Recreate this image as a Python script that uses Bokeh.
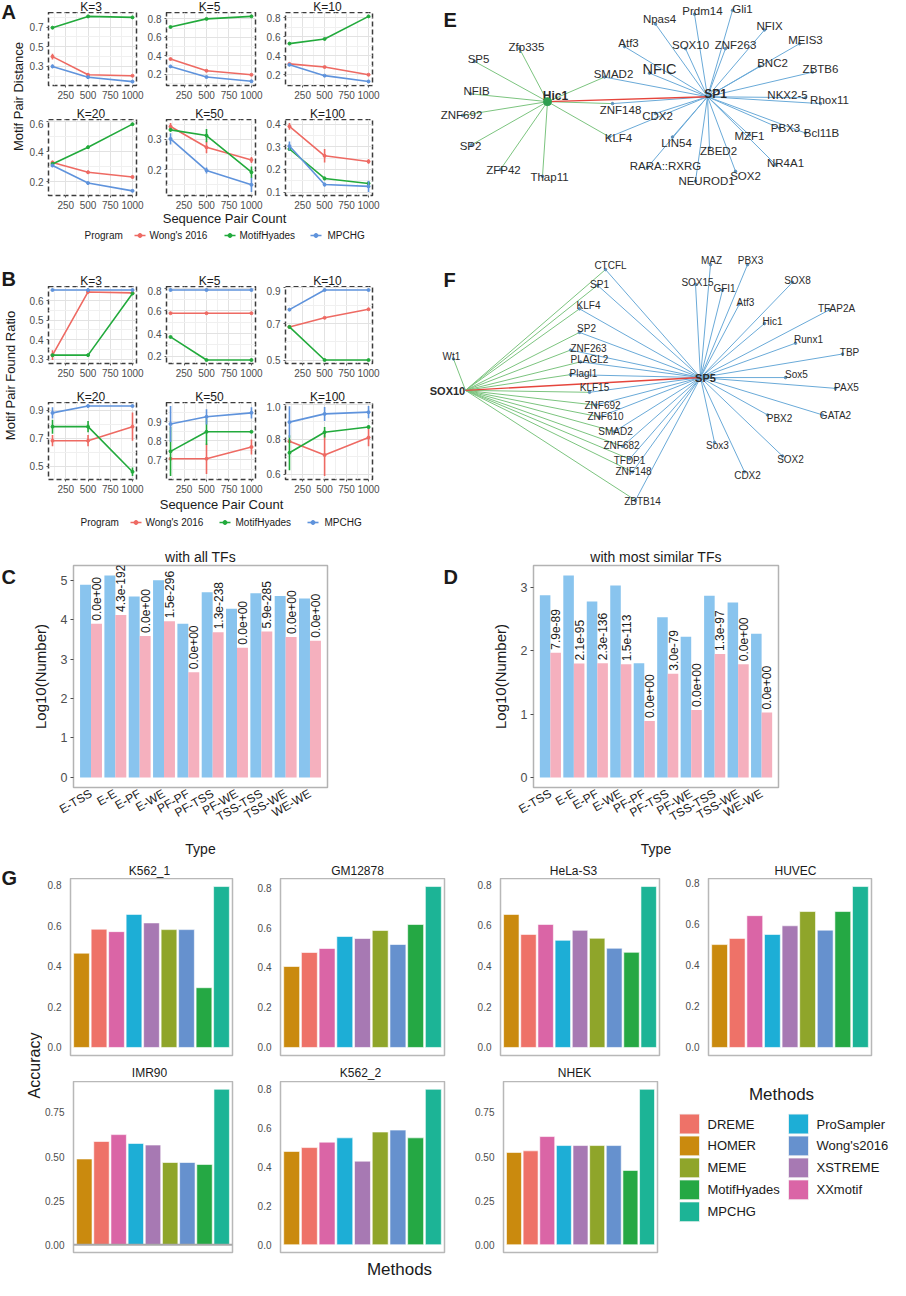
import math
from bokeh.plotting import figure
from bokeh.models import (Range1d, FactorRange, FixedTicker, ColumnDataSource, Span,
                          NumeralTickFormatter)
from bokeh.layouts import row, column
from bokeh.embed import file_html
from bokeh.resources import INLINE
from bokeh.core.properties import value
from bokeh.transform import dodge

FONT = "Liberation Sans"
INK = "#1A1A1A"
GREY_TXT = "#4D4D4D"

# ---------------- Panels A / B data ----------------
seq_counts = [100, 500, 1000]
x_ticks = [250, 500, 750, 1000]
k_titles = ["K=3", "K=5", "K=10", "K=20", "K=50", "K=100"]
programs = ["Wong's 2016", "MotifHyades", "MPCHG"]
program_colors = ["#EE6A63", "#22AA3C", "#5F93DC"]

dist_wong = [[0.40, 0.215, 0.205], [0.367, 0.24, 0.197], [0.314, 0.281, 0.20],
             [0.328, 0.262, 0.231], [0.343, 0.274, 0.232], [0.39, 0.26, 0.235]]
dist_mh = [[0.695, 0.81, 0.80], [0.713, 0.80, 0.827], [0.528, 0.577, 0.815],
           [0.318, 0.43, 0.584], [0.332, 0.313, 0.191], [0.29, 0.16, 0.138]]
dist_mpchg = [[0.30, 0.19, 0.145], [0.287, 0.173, 0.127], [0.304, 0.19, 0.129],
              [0.307, 0.19, 0.138], [0.302, 0.197, 0.149], [0.303, 0.133, 0.125]]
dist_err_wong = [[0.03, 0.008, 0.006], [0.01, 0.005, 0.008], [0.01, 0.01, 0.008],
                 [0.012, 0.01, 0.01], [0.012, 0.02, 0.01], [0.015, 0.03, 0.01]]
dist_err_mh = [[0.012, 0.006, 0.006], [0.008, 0.005, 0.006], [0.005, 0.005, 0.006],
               [0.012, 0.01, 0.008], [0.006, 0.022, 0.019], [0.008, 0.008, 0.01]]
dist_err_mpchg = [[0.02, 0.006, 0.006], [0.008, 0.005, 0.01], [0.012, 0.006, 0.008],
                  [0.01, 0.008, 0.008], [0.019, 0.01, 0.024], [0.02, 0.008, 0.025]]
dist_yticks = [[0.3, 0.5, 0.7], [0.2, 0.4, 0.6, 0.8], [0.2, 0.4, 0.6, 0.8],
               [0.2, 0.4, 0.6], [0.2, 0.3], [0.1, 0.2, 0.3, 0.4]]

ratio_wong = [[0.32, 0.645, 0.64], [0.58, 0.58, 0.58], [0.682, 0.732, 0.779],
              [0.683, 0.683, 0.783], [0.705, 0.705, 0.767], [0.788, 0.71, 0.81]]
ratio_mh = [[0.32, 0.32, 0.637], [0.37, 0.166, 0.166], [0.682, 0.5, 0.5],
            [0.783, 0.783, 0.462], [0.744, 0.847, 0.847], [0.723, 0.84, 0.87]]
ratio_mpchg = [[0.655, 0.655, 0.655], [0.785, 0.785, 0.785], [0.777, 0.885, 0.885],
               [0.881, 0.93, 0.93], [0.888, 0.926, 0.947], [0.898, 0.945, 0.955]]
ratio_err_wong = [[0.025, 0, 0], [0, 0, 0], [0, 0, 0], [0.04, 0.04, 0.1],
                  [0, 0.08, 0.04], [0.01, 0.12, 0.05]]
ratio_err_mh = [[0, 0, 0], [0, 0, 0], [0, 0, 0], [0.05, 0.04, 0.03],
                [0.13, 0.07, 0], [0.1, 0.03, 0.01]]
ratio_err_mpchg = [[0, 0, 0], [0, 0, 0], [0, 0, 0], [0.04, 0, 0],
                   [0.095, 0.04, 0.03], [0.09, 0.04, 0.035]]
ratio_yticks = [[0.3, 0.4, 0.5, 0.6], [0.2, 0.4, 0.6, 0.8], [0.5, 0.7, 0.9],
                [0.5, 0.7, 0.9], [0.7, 0.8, 0.9], [0.6, 0.8, 1.0]]

# ---------------- Panels C / D data ----------------
pair_types = ["E-TSS", "E-E", "E-PF", "E-WE", "PF-PF", "PF-TSS", "PF-WE", "TSS-TSS", "TSS-WE", "WE-WE"]
alltf_total = [4.89, 5.12, 4.59, 5.00, 3.90, 4.70, 4.28, 4.67, 4.60, 4.54]
alltf_shared = [3.90, 4.12, 3.59, 3.96, 2.67, 3.68, 3.29, 3.70, 3.56, 3.47]
alltf_pvalue = ["0.0e+00", "4.3e-192", "0.0e+00", "1.5e-296", "0.0e+00", "1.3e-238",
                "0.0e+00", "5.9e-285", "0.0e+00", "0.0e+00"]
simtf_total = [2.88, 3.19, 2.78, 3.035, 1.805, 2.53, 2.225, 2.87, 2.765, 2.27]
simtf_shared = [1.97, 1.80, 1.805, 1.79, 0.89, 1.64, 1.065, 1.95, 1.79, 1.025]
simtf_pvalue = ["7.9e-89", "2.1e-95", "2.3e-136", "1.5e-113", "0.0e+00", "3.0e-79",
                "0.0e+00", "1.3e-97", "0.0e+00", "0.0e+00"]
alltf_yticks = [0, 1, 2, 3, 4, 5]
simtf_yticks = [0, 1, 2, 3]

# ---------------- Panel G data ----------------
methods_order = ["HOMER", "DREME", "XXmotif", "ProSampler", "XSTREME", "MEME",
                 "Wong's2016", "MotifHyades", "MPCHG"]
method_names = ["DREME", "HOMER", "MEME", "MotifHyades", "MPCHG",
                "ProSampler", "Wong's2016", "XSTREME", "XXmotif"]
method_colors = ["#EE7268", "#CA8A0E", "#8FA52A", "#25A844", "#1CB496",
                 "#1DAED6", "#6691CE", "#A779B3", "#DA65A6"]
cell_lines = ["K562_1", "GM12878", "HeLa-S3", "HUVEC", "IMR90", "K562_2", "NHEK"]
acc_K562_1 = [0.464, 0.582, 0.570, 0.655, 0.613, 0.580, 0.580, 0.294, 0.792]
acc_GM12878 = [0.405, 0.475, 0.495, 0.555, 0.545, 0.585, 0.515, 0.615, 0.805]
acc_HeLaS3 = [0.653, 0.555, 0.604, 0.526, 0.575, 0.536, 0.487, 0.467, 0.790]
acc_HUVEC = [0.498, 0.528, 0.638, 0.547, 0.589, 0.658, 0.568, 0.658, 0.779]
acc_IMR90 = [0.486, 0.585, 0.624, 0.574, 0.565, 0.466, 0.466, 0.455, 0.881]
acc_K562_2 = [0.480, 0.500, 0.528, 0.550, 0.430, 0.580, 0.590, 0.550, 0.800]
acc_NHEK = [0.523, 0.532, 0.613, 0.562, 0.562, 0.562, 0.562, 0.421, 0.881]
acc_ticks_a = [0.0, 0.2, 0.4, 0.6, 0.8]
acc_ticks_b = [0.0, 0.25, 0.5, 0.75]

# ---------------- Panel E / F network data (positions) ----------------
e_hub_names = ["Hic1", "SP1"]
e_hub_x = [555, 715]
e_hub_y = [101, 96]
e_hub_label_x = [563, 723]
e_hub_label_y = [95, 93]
e_names = ["Zfp335", "SP5", "NFIB", "ZNF692", "SP2", "ZFP42", "Thap11", "SMAD2", "ZNF148", "KLF4",
           "Npas4", "Prdm14", "Gli1", "NFIX", "MEIS3", "Atf3", "SOX10", "ZNF263", "BNC2", "ZBTB6",
           "NFIC", "NKX2-5", "Rhox11", "PBX3", "Bcl11B", "MZF1", "NR4A1", "ZBED2", "LIN54", "CDX2",
           "RARA::RXRG", "NEUROD1", "SOX2"]
e_node_x = [527, 482, 478, 470, 479, 508, 550, 612, 620, 617,
            663, 702, 740, 772, 807, 632, 693, 733, 767, 820,
            657, 813, 828, 787, 813, 757, 783, 717, 680, 663,
            655, 703, 743]
e_node_y = [47, 60, 93, 115, 145, 170, 177, 76, 103, 137,
            22, 12, 8, 28, 42, 45, 47, 47, 65, 71,
            72, 97, 103, 128, 133, 135, 165, 148, 137, 113,
            168, 182, 172]
e_label_x = [534, 486, 484, 469, 478, 511, 557, 621, 628, 626,
             667, 710, 750, 777, 813, 636, 698, 743, 780, 828,
             667, 795, 837, 793, 829, 757, 793, 726, 684, 665,
             673, 714, 753]
e_label_y = [45, 58, 90, 115, 146, 171, 178, 73, 110, 138,
             17, 9, 7, 24, 38, 41, 43, 43, 62, 68,
             68, 94, 99, 128, 133, 136, 163, 151, 143, 116,
             167, 182, 177]
e_links_hic1 = ["Zfp335", "SP5", "NFIB", "ZNF692", "SP2", "ZFP42", "Thap11", "SMAD2", "ZNF148", "KLF4"]
e_links_sp1 = ["SMAD2", "ZNF148", "KLF4", "Npas4", "Prdm14", "Gli1", "NFIX", "MEIS3", "Atf3", "SOX10",
               "ZNF263", "BNC2", "ZBTB6", "NFIC", "NKX2-5", "Rhox11", "PBX3", "Bcl11B", "MZF1", "NR4A1",
               "ZBED2", "LIN54", "CDX2", "RARA::RXRG", "NEUROD1", "SOX2"]

f_hub_names = ["SOX10", "SP5"]
f_hub_x = [473, 708]
f_hub_y = [395, 382]
f_hub_label_x = [455, 713]
f_hub_label_y = [396, 382]
f_names = ["Wt1", "CTCFL", "SP1", "KLF4", "SP2", "ZNF263", "PLAGL2", "Plagl1", "KLF15", "ZNF692",
           "ZNF610", "SMAD2", "ZNF682", "TFDP1", "ZNF148", "ZBTB14", "MAZ", "PBX3", "SOX15", "GFI1",
           "Atf3", "SOX8", "Hic1", "TFAP2A", "Runx1", "TBP", "Sox5", "PAX5", "GATA2", "PBX2",
           "SOX2", "CDX2", "Sox3"]
f_node_x = [461, 613, 605, 587, 587, 578, 588, 578, 597, 603,
            607, 622, 630, 637, 640, 643, 718, 755, 703, 730,
            747, 800, 772, 837, 803, 850, 793, 843, 830, 775,
            790, 752, 722]
f_node_y = [363, 272, 288, 312, 336, 354, 366, 379, 397, 410,
            422, 437, 452, 465, 478, 507, 267, 267, 287, 293,
            307, 285, 327, 313, 347, 358, 382, 393, 420, 420,
            462, 478, 448]
f_label_x = [459, 618, 607, 596, 594, 596, 597, 591, 602, 610,
             613, 623, 629, 637, 641, 650, 719, 758, 705, 732,
             753, 805, 780, 844, 816, 857, 804, 854, 843, 787,
             798, 755, 725]
f_label_y = [361, 268, 287, 309, 332, 352, 364, 378, 392, 410,
             422, 437, 451, 466, 478, 508, 263, 263, 285, 291,
             306, 283, 325, 312, 343, 356, 379, 392, 421, 424,
             465, 482, 451]
f_links_sox10 = ["Wt1", "CTCFL", "SP1", "KLF4", "SP2", "ZNF263", "PLAGL2", "Plagl1", "KLF15", "ZNF692",
                 "ZNF610", "SMAD2", "ZNF682", "TFDP1", "ZNF148", "ZBTB14"]
f_links_sp5 = ["CTCFL", "SP1", "KLF4", "SP2", "ZNF263", "PLAGL2", "Plagl1", "KLF15", "ZNF692",
               "ZNF610", "SMAD2", "ZNF682", "TFDP1", "ZNF148", "ZBTB14", "MAZ", "PBX3", "SOX15", "GFI1",
               "Atf3", "SOX8", "Hic1", "TFAP2A", "Runx1", "TBP", "Sox5", "PAX5", "GATA2", "PBX2",
               "SOX2", "CDX2", "Sox3"]

GREEN_EDGE = "#7CC47F"
BLUE_EDGE = "#6AAAD8"
RED_EDGE = "#E5453C"
BAR_BLUE = "#89C4EE"
BAR_PINK = "#F5B0BE"


# ---------------- helpers ----------------
def make_fig(w, h, xr, yr, left=0, right=0, top=0, bottom=0, title=None):
    p = figure(width=w, height=h, x_range=xr, y_range=yr, output_backend="svg",
               toolbar_location=None, min_border_left=left, min_border_right=right,
               min_border_top=top, min_border_bottom=bottom, title=title)
    p.background_fill_color = "white"
    p.border_fill_color = "white"
    return p


def make_canvas(x0, y0, w, h):
    p = figure(width=w, height=h, x_range=Range1d(x0, x0 + w), y_range=Range1d(y0 + h, y0),
               output_backend="svg", toolbar_location=None, min_border=0,
               x_axis_location=None, y_axis_location=None, title=None)
    p.outline_line_color = None
    p.grid.visible = False
    p.background_fill_color = "white"
    p.border_fill_color = "white"
    return p


def put_text(p, xs, ys, texts, size, align="center", baseline="middle", bold=False,
             color=INK, angle=0.0):
    p.text(x=xs, y=ys, text=texts, text_font=value(FONT), text_font_size=f"{size}px",
           text_align=align, text_baseline=baseline,
           text_font_style="bold" if bold else "normal", text_color=color, angle=angle)


def minor_between(ticks, lo, hi):
    step = ticks[1] - ticks[0]
    cand = [ticks[0] - step / 2] + [(a + b) / 2 for a, b in zip(ticks, ticks[1:])] + [ticks[-1] + step / 2]
    return [c for c in cand if lo <= c <= hi]


def line_panel(i, wong, mh, mp, ew, em, ep, yticks, left, fw, right, fh, bottom):
    series = [(wong[i], ew[i]), (mh[i], em[i]), (mp[i], ep[i])]
    lo = min(v - e for vals, errs in series for v, e in zip(vals, errs))
    hi = max(v + e for vals, errs in series for v, e in zip(vals, errs))
    pad = 0.05 * (hi - lo)
    xpad = 0.05 * (max(seq_counts) - min(seq_counts))
    xr = Range1d(min(seq_counts) - xpad, max(seq_counts) + xpad)
    yr = Range1d(lo - pad, hi + pad)
    p = make_fig(left + fw + right, fh + bottom, xr, yr, left, right, 0, bottom)
    p.xaxis.ticker = FixedTicker(ticks=x_ticks, minor_ticks=minor_between(x_ticks, xr.start, xr.end))
    p.yaxis.ticker = FixedTicker(ticks=yticks[i], minor_ticks=minor_between(yticks[i], yr.start, yr.end))
    p.yaxis.formatter = NumeralTickFormatter(format="0.0")
    p.axis.axis_line_color = None
    p.axis.major_tick_line_color = "#5A5A5A"
    p.axis.major_tick_out = 2
    p.axis.major_tick_in = 0
    p.axis.minor_tick_line_color = None
    p.axis.major_label_text_font = FONT
    p.axis.major_label_text_font_size = "10px"
    p.axis.major_label_text_color = GREY_TXT
    p.axis.major_label_standoff = 1
    p.xgrid.grid_line_color = "#E2E2E2"
    p.ygrid.grid_line_color = "#E2E2E2"
    p.xgrid.minor_grid_line_color = "#F0F0F0"
    p.ygrid.minor_grid_line_color = "#F0F0F0"
    p.outline_line_color = "#3C3C3C"
    p.outline_line_width = 1.5
    p.outline_line_dash = "5 3"
    for (vals, errs), col in zip(series, program_colors):
        p.segment(x0=seq_counts, y0=[v - e for v, e in zip(vals, errs)],
                  x1=seq_counts, y1=[v + e for v, e in zip(vals, errs)],
                  line_color=col, line_width=1.6)
        p.line(x=seq_counts, y=vals, line_color=col, line_width=1.6)
        p.scatter(x=seq_counts, y=vals, size=3, color=col)
    return p


PANEL_LEFT = [19, 19, 19]
PANEL_FRAME = [91, 92, 90]
PANEL_RIGHT = [8, 8, 50]
FRAME_CENTERS = [98.5, 217, 335]
AB_W = 396


def line_row(i0, wong, mh, mp, ew, em, ep, yt, fh, bottom):
    return row(*[line_panel(i0 + j, wong, mh, mp, ew, em, ep, yt, PANEL_LEFT[j], PANEL_FRAME[j],
                            PANEL_RIGHT[j], fh, bottom) for j in range(3)])


def title_strip(x0, y0, w, h, xs, labels, y, size=12):
    c = make_canvas(x0, y0, w, h)
    put_text(c, xs, [y] * len(xs), labels, size)
    return c


def program_legend(x0, y0, w, h, xlab_x, xlab_y, leg_y, prog_x, sw_x, lab_x):
    c = make_canvas(x0, y0, w, h)
    put_text(c, [xlab_x], [xlab_y], ["Sequence Pair Count"], 13)
    put_text(c, [prog_x], [leg_y], ["Program"], 10, align="left")
    for sx, lx, name, col in zip(sw_x, lab_x, programs, program_colors):
        c.segment(x0=[sx], y0=[leg_y], x1=[sx + 11], y1=[leg_y], line_color=col, line_width=1.6)
        c.scatter(x=[sx + 5.5], y=[leg_y], size=4, color=col)
        put_text(c, [lx], [leg_y], [name], 10, align="left")
    return c


# ---------------- Panel A block ----------------
a_left = make_canvas(8, 8, 26, 260)
put_text(a_left, [9], [19], ["A"], 20, align="left", bold=True)
put_text(a_left, [26], [104], ["Motif Pair Distance"], 13, angle=math.pi / 2)
a_col = column(
    title_strip(34, 8, AB_W, 12, FRAME_CENTERS, k_titles[:3], 14),
    line_row(0, dist_wong, dist_mh, dist_mpchg, dist_err_wong, dist_err_mh, dist_err_mpchg,
             dist_yticks, 73, 22),
    title_strip(34, 115, AB_W, 12, FRAME_CENTERS, k_titles[3:], 121),
    line_row(3, dist_wong, dist_mh, dist_mpchg, dist_err_wong, dist_err_mh, dist_err_mpchg,
             dist_yticks, 76, 17),
    program_legend(34, 220, AB_W, 48, 232, 226, 243, 92, [142, 232, 318], [157, 247, 335]),
)
a_block = row(a_left, a_col)

# ---------------- Panel B block ----------------
b_left = make_canvas(8, 268, 26, 284)
put_text(b_left, [9], [286], ["B"], 20, align="left", bold=True)
put_text(b_left, [18], [383], ["Motif Pair Found Ratio"], 13, angle=math.pi / 2)
b_col = column(
    title_strip(34, 268, AB_W, 26, FRAME_CENTERS, k_titles[:3], 288),
    line_row(0, ratio_wong, ratio_mh, ratio_mpchg, ratio_err_wong, ratio_err_mh, ratio_err_mpchg,
             ratio_yticks, 77, 17),
    title_strip(34, 388, AB_W, 22, FRAME_CENTERS, k_titles[3:], 404),
    line_row(3, ratio_wong, ratio_mh, ratio_mpchg, ratio_err_wong, ratio_err_mh, ratio_err_mpchg,
             ratio_yticks, 77, 17),
    program_legend(34, 504, AB_W, 48, 229, 512, 530, 88, [138, 227, 315], [153, 243, 332]),
)
b_block = row(b_left, b_col)


# ---------------- Panels E / F (networks) ----------------
def draw_network(p, hub_x, hub_y, hub_lx, hub_ly, hub_names, names, nx, ny, lx, ly,
                 left_links, right_links, font_px, hub_font_px, big=None):
    idx = {n: i for i, n in enumerate(names)}
    for links, hub, col in ((left_links, 0, GREEN_EDGE), (right_links, 1, BLUE_EDGE)):
        p.segment(x0=[hub_x[hub]] * len(links), y0=[hub_y[hub]] * len(links),
                  x1=[nx[idx[n]] for n in links], y1=[ny[idx[n]] for n in links],
                  line_color=col, line_width=1.0)
    p.segment(x0=[hub_x[0]], y0=[hub_y[0]], x1=[hub_x[1]], y1=[hub_y[1]],
              line_color=RED_EDGE, line_width=1.4)
    p.scatter(x=nx, y=ny, size=2.5, color="#5B8FB9")
    sizes = [f"{font_px}px" if n != big else f"{font_px + 3}px" for n in names]
    src = ColumnDataSource(dict(x=lx, y=ly, t=names, s=sizes))
    p.text(x="x", y="y", text="t", text_font_size="s", source=src, text_font=value(FONT),
           text_align="center", text_baseline="middle", text_color="#2B2B2B")
    put_text(p, hub_lx, hub_ly, hub_names, hub_font_px, bold=True, color="#2B2B2B")


ef = figure(width=468, height=544, x_range=Range1d(430, 898), y_range=Range1d(552, -2),
            output_backend="svg", toolbar_location=None, min_border=0,
            x_axis_location=None, y_axis_location=None, title=None)
ef.outline_line_color = None
ef.grid.visible = False
draw_network(ef, e_hub_x, e_hub_y, e_hub_label_x, e_hub_label_y, e_hub_names, e_names,
             e_node_x, e_node_y, e_label_x, e_label_y, e_links_hic1, e_links_sp1, 11.5, 12, big="NFIC")
ef.scatter(x=[e_hub_x[0]], y=[e_hub_y[0]], size=8, color="#2E9E4F")
draw_network(ef, f_hub_x, f_hub_y, f_hub_label_x, f_hub_label_y, f_hub_names, f_names,
             f_node_x, f_node_y, f_label_x, f_label_y, f_links_sox10, f_links_sp5, 10, 11)
put_text(ef, [451, 451], [18, 283], ["E", "F"], 20, align="left", bold=True)

top_row = row(column(a_block, b_block), ef)


# ---------------- Panels C / D ----------------
def bar_panel(title, totals, shared, pvals, yticks, w, h, left, right, top, bottom):
    xr = FactorRange(factors=pair_types, range_padding=0.22, range_padding_units="absolute")
    hi = max(totals)
    pad = 0.05 * hi
    p = make_fig(w, h, xr, Range1d(-pad, hi + pad), left, right, top, bottom, title=title)
    p.title.align = "center"
    p.title.text_font = FONT
    p.title.text_font_size = "14px"
    p.title.text_font_style = "normal"
    p.title.text_color = INK
    p.title.standoff = 2
    src = ColumnDataSource(dict(ptype=pair_types, total=totals, shared=shared, pv=pvals))
    p.vbar(x=dodge("ptype", -0.225, range=xr), top="total", bottom=0, width=0.45, source=src,
           fill_color=BAR_BLUE, line_color=None)
    p.vbar(x=dodge("ptype", 0.225, range=xr), top="shared", bottom=0, width=0.45, source=src,
           fill_color=BAR_PINK, line_color=None)
    p.text(x=dodge("ptype", 0.225, range=xr), y="shared", text="pv", source=src,
           angle=math.pi / 2, text_align="left", text_baseline="middle", y_offset=-3,
           text_font=value(FONT), text_font_size="12px", text_color=INK)
    p.yaxis.ticker = FixedTicker(ticks=yticks)
    p.grid.visible = False
    p.axis.axis_line_color = None
    p.yaxis.major_tick_line_color = GREY_TXT
    p.yaxis.major_tick_out = 3
    p.yaxis.major_tick_in = 0
    p.xaxis.major_tick_line_color = None
    p.xaxis.major_tick_out = 2
    p.xaxis.major_tick_in = 0
    p.axis.minor_tick_line_color = None
    p.axis.major_label_text_font = FONT
    p.yaxis.major_label_text_font_size = "12.5px"
    p.yaxis.major_label_text_color = GREY_TXT
    p.xaxis.major_label_text_font_size = "12px"
    p.xaxis.major_label_text_color = INK
    p.xaxis.major_label_orientation = math.pi / 6
    p.axis.major_label_standoff = 3
    p.axis.axis_label_text_font = FONT
    p.axis.axis_label_text_font_style = "normal"
    p.axis.axis_label_text_color = INK
    p.xaxis.axis_label = "Type"
    p.yaxis.axis_label = "Log10(Number)"
    p.xaxis.axis_label_text_font_size = "14px"
    p.yaxis.axis_label_text_font_size = "15px"
    p.xaxis.axis_label_standoff = 8
    p.yaxis.axis_label_standoff = 9
    p.outline_line_color = "#B3B3B3"
    p.outline_line_width = 1.5
    return p


c_letter = make_canvas(8, 552, 20, 320)
put_text(c_letter, [9], [569], ["C"], 20, align="left", bold=True)
c_fig = bar_panel("with all TFs", alltf_total, alltf_shared, alltf_pvalue, alltf_yticks,
                  422, 320, 53, 115, 21, 77)
d_letter = make_canvas(450, 552, 20, 320)
put_text(d_letter, [451], [569], ["D"], 20, align="left", bold=True)
d_fig = bar_panel("with most similar TFs", simtf_total, simtf_shared, simtf_pvalue, simtf_yticks,
                  428, 320, 71, 112, 19, 71)
mid_row = row(c_letter, c_fig, d_letter, d_fig)


# ---------------- Panel G ----------------
def acc_panel(vals, yticks, fmt, left, fw, right, fh, bottom, zero_rule=False):
    xr = FactorRange(factors=methods_order, range_padding=0.13, range_padding_units="absolute")
    hi = max(vals)
    p = make_fig(left + fw + right, fh + bottom, xr, Range1d(-0.05 * hi, 1.05 * hi),
                 left, right, 0, bottom)
    cols = [method_colors[method_names.index(m)] for m in methods_order]
    src = ColumnDataSource(dict(m=methods_order, acc=vals, col=cols))
    p.vbar(x="m", top="acc", bottom=0, width=0.9, fill_color="col", line_color="white",
           line_width=0.6, source=src)
    if zero_rule:
        p.add_layout(Span(location=0, dimension="width", line_color="#A8A8A8", line_width=2))
    p.xaxis.visible = False
    p.grid.visible = False
    p.yaxis.ticker = FixedTicker(ticks=yticks)
    p.yaxis.formatter = NumeralTickFormatter(format=fmt)
    p.yaxis.axis_line_color = None
    p.yaxis.major_tick_line_color = None
    p.yaxis.minor_tick_line_color = None
    p.yaxis.major_label_standoff = 3
    p.yaxis.major_label_text_font = FONT
    p.yaxis.major_label_text_font_size = "10px"
    p.yaxis.major_label_text_color = GREY_TXT
    p.outline_line_color = "#B8B8B8"
    p.outline_line_width = 1.5
    return p


g_left = make_canvas(8, 872, 42, 416)
put_text(g_left, [9], [885], ["G"], 20, align="left", bold=True)
put_text(g_left, [42], [1073], ["Accuracy"], 16, angle=math.pi / 2)

g_row1 = row(
    acc_panel(acc_K562_1, acc_ticks_a, "0.0", 28, 162, 22, 177, 12),
    acc_panel(acc_GM12878, acc_ticks_a, "0.0", 26, 164, 30, 177, 12),
    acc_panel(acc_HeLaS3, acc_ticks_a, "0.0", 24, 161, 23, 177, 12),
    acc_panel(acc_HUVEC, acc_ticks_a, "0.0", 25, 164, 19, 177, 12),
)

g_legend = make_canvas(680, 1089, 218, 173)
put_text(g_legend, [789], [1102], ["Methods"], 17)
leg_rows_y = [1132, 1154.2, 1176.4, 1198.6, 1220.8]
for k, name in enumerate(method_names):
    colx = 697 if k < 5 else 806
    yy = leg_rows_y[k if k < 5 else k - 5]
    g_legend.rect(x=[colx], y=[yy], width=20, height=20,
                  fill_color=method_colors[k], line_color="#F4F4F4", line_width=0.8)
    put_text(g_legend, [colx + 18], [yy], [name], 13, align="left")

g_row2 = row(
    acc_panel(acc_IMR90, acc_ticks_b, "0.00", 27, 163, 22, 171, 2, zero_rule=True),
    acc_panel(acc_K562_2, acc_ticks_a, "0.0", 25, 165, 28, 171, 2),
    acc_panel(acc_NHEK, acc_ticks_b, "0.00", 27, 158, 15, 171, 2),
    g_legend,
)

g_bottom = make_canvas(50, 1262, 848, 26)
put_text(g_bottom, [407], [1277], ["Methods"], 17)

g_col = column(
    title_strip(50, 872, 848, 14, [157, 365, 581, 803], cell_lines[:4], 878),
    g_row1,
    title_strip(50, 1075, 848, 14, [157, 368, 582], cell_lines[4:], 1080.5),
    g_row2,
    g_bottom,
)
g_block = row(g_left, g_col)

page = column(top_row, mid_row, g_block)

open("out.html", "w").write(file_html(page, INLINE))
